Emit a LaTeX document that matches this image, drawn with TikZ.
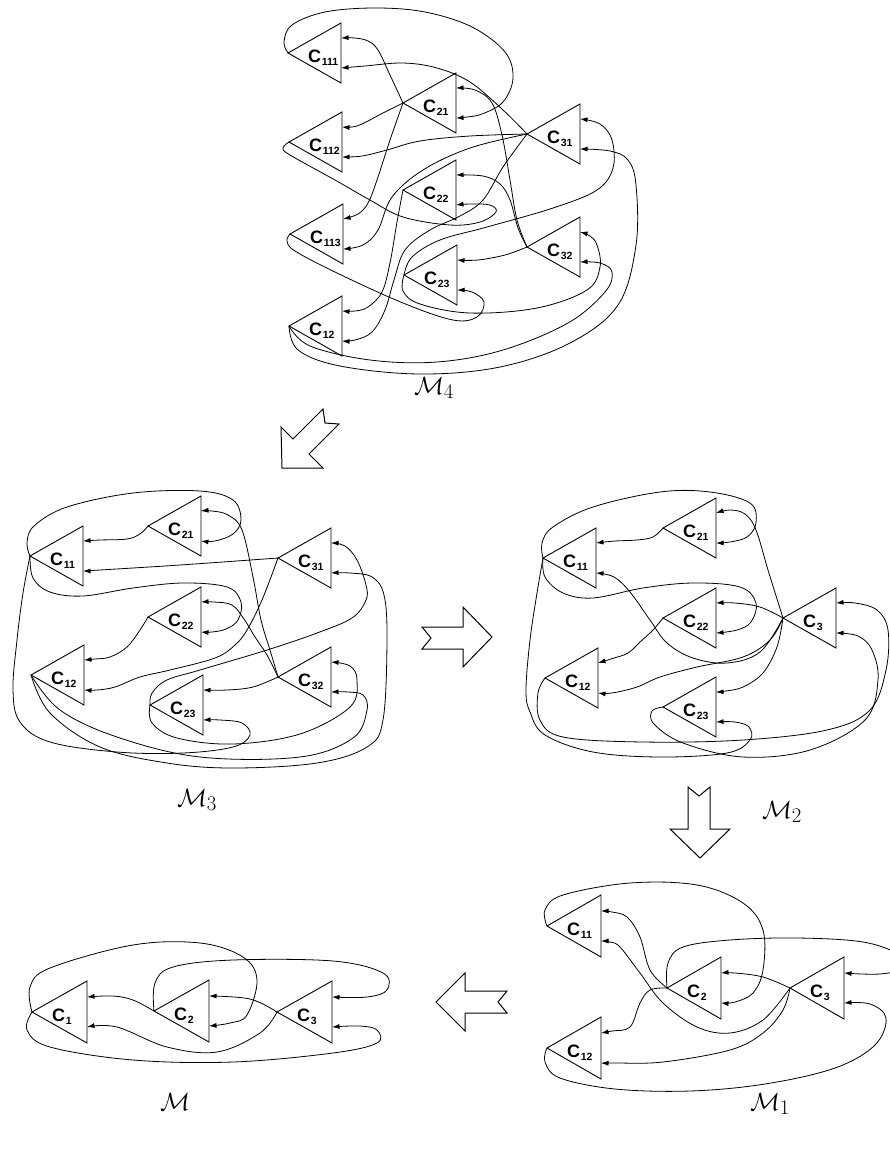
\documentclass[tikz,border=0pt]{standalone}
\usepackage{fontspec}
\setsansfont{Liberation Sans}
\usetikzlibrary{arrows.meta}
\newcommand\trw{53}
\newcommand\trh{30}
\newcommand\clab[1]{{\fontsize{18}{18}\selectfont\sffamily\bfseries C}\kern0.6pt\raisebox{-3.5pt}{\fontsize{10.5}{10.5}\selectfont\sffamily\bfseries #1}}
\tikzset{
  trip/.style={draw,line width=0.9pt,line join=miter},
  conn/.style={line width=0.8pt,-{Latex[length=7.5pt,width=5pt]}},
  blk/.style={draw,line width=1pt,fill=white,line join=miter},
  lab/.style={anchor=base west,inner sep=0pt},
  mlab/.style={inner sep=0pt,font=\fontsize{28}{28}\selectfont}
}
\newcommand\tri[4]{%
  \coordinate (#1) at (#2,#3);
  \coordinate (#1a) at (#2+\trw,#3-15);
  \coordinate (#1b) at (#2+\trw,#3+15);
  \draw[trip] (#1) -- (#2+\trw,#3-\trh) -- (#2+\trw,#3+\trh) -- cycle;
  \node[lab] (#1t) at (#2+20,#3+9) {\clab{#4}};
}
\newcommand\cv[1]{\draw[conn] plot[smooth,tension=0.6] coordinates {#1};}
\begin{document}
\begin{tikzpicture}[x=1pt,y=-1pt]
\useasboundingbox (0,0) rectangle (890,1152);
% ================= M4 =================
\tri{a111}{288}{53}{111}
\tri{a21}{403}{103}{21}
\tri{a112}{289}{142}{112}
\tri{a31}{527}{134}{31}
\tri{a22}{403}{190}{22}
\tri{a113}{290}{234}{113}
\tri{a32}{527}{247}{32}
\tri{a23}{404}{275}{23}
\tri{a12}{289}{326}{12}
\cv{(a111) (284,42) (292,25) (325,12) (375,8) (425,12) (472,27) (505,52) (513,78) (503,102) (482,114) (467,117) (a21b)}
\cv{(a21) (390,75) (378,50) (368,41) (355,38) (a111a)}
\cv{(a21) (383,113) (362,124) (352,127) (a112a)}
\cv{(a21) (390,140) (377,180) (368,203) (358,214) (a113a)}
\cv{(a112) (283,148) (290,155) (335,180) (370,200) (403,217) (450,225) (480,222) (496,212) (490,205) (470,204) (a22b)}
\cv{(a31) (503,110) (470,82) (437,68) (403,63) (365,66) (a111b)}
\cv{(a31) (470,136) (420,141) (387,150) (362,156) (a112b)}
\cv{(a31) (470,148) (423,170) (392,197) (378,230) (363,245) (a113b)}
\cv{(a31) (503,167) (483,200) (460,216) (430,230) (405,250) (394,280) (385,310) (372,332) (355,340) (a12b)}
\cv{(a22) (397,222) (390,263) (382,292) (368,307) (355,311) (a12a)}
\cv{(a32) (517,220) (510,180) (502,135) (492,103) (475,90) (a21a)}
\cv{(a32) (518,228) (510,200) (500,184) (483,176) (a22a)}
\cv{(a32) (505,255) (478,260) (a23a)}
\cv{(a23) (412,257) (440,240) (487,227) (553,208) (597,190) (613,168) (612,140) (600,124) (a31a)}
\cv{(a12) (298,350) (340,366) (420,374) (500,367) (570,343) (618,305) (636,245) (636,185) (628,160) (610,151) (a31b)}
\cv{(a12) (310,346) (370,360) (437,362) (503,350) (568,323) (605,292) (612,272) (600,263) (a32b)}
\cv{(a113) (287,241) (295,251) (337,273) (403,303) (453,320) (477,317) (484,302) (472,292) (a23b)}
\cv{(a23) (403,291) (420,304) (470,313) (537,308) (587,290) (600,267) (597,245) (590,236) (a32a)}
\node[mlab] (l4) at (434,388) {$\mathcal{M}_4$};
% ================= M3 =================
\tri{b11}{30}{556}{11}
\tri{b21}{148}{526}{21}
\tri{b31}{278}{558}{31}
\tri{b22}{148}{617}{22}
\tri{b12}{31}{675}{12}
\tri{b32}{278}{677}{32}
\tri{b23}{150}{705}{23}
\cv{(b21) (140,534) (127,539) (100,540) (b11a)}
\cv{(b11) (27,543) (34,526) (67,507) (133,493) (200,491) (233,500) (241,520) (233,534) (215,541) (b21b)}
\cv{(b31) (180,565) (100,570) (b11b)}
\cv{(b11) (33,578) (50,592) (83,596) (133,588) (183,583) (227,587) (241,602) (238,620) (226,629) (212,632) (b22b)}
\cv{(b11) (23,593) (17,640) (13,690) (20,722) (50,742) (117,752) (183,753) (233,747) (250,735) (242,723) (220,720) (b23b)}
\cv{(b22) (140,630) (127,647) (110,657) (95,659) (b12a)}
\cv{(b32) (270,650) (261,620) (253,577) (242,530) (228,515) (212,511) (b21a)}
\cv{(b32) (267,655) (255,637) (244,619) (232,605) (214,602) (b22a)}
\cv{(b31) (262,600) (247,630) (235,645) (215,658) (170,670) (140,677) (115,687) (97,690) (b12b)}
\cv{(b32) (253,687) (227,690) (b23a)}
\cv{(b23) (152,693) (167,680) (200,670) (267,650) (317,633) (352,618) (366,600) (366,585) (357,560) (345,546) (b31a)}
\cv{(b12) (50,713) (100,747) (167,763) (233,768) (317,763) (367,747) (383,720) (387,640) (384,595) (372,577) (350,573) (b31b)}
\cv{(b12) (60,710) (117,737) (200,757) (300,757) (353,738) (367,710) (363,695) (348,692) (b32b)}
\cv{(b23) (152,723) (177,738) (233,744) (300,734) (350,707) (357,680) (350,666) (b32a)}
\node[mlab] (l3) at (197,800) {$\mathcal{M}_3$};
% ================= M2 =================
\tri{c11}{543}{558}{11}
\tri{c21}{663}{528}{21}
\tri{c22}{663}{618}{22}
\tri{c3}{783}{618}{3}
\tri{c12}{545}{678}{12}
\tri{c23}{663}{707}{23}
\cv{(c21) (653,537) (637,540) (615,541) (c11a)}
\cv{(c11) (542,543) (553,527) (593,507) (660,492) (710,492) (750,503) (756,523) (747,537) (730,542) (c21b)}
\cv{(c3) (760,652) (727,663) (693,658) (667,643) (650,620) (630,592) (614,577) (c11b)}
\cv{(c11) (545,577) (563,593) (593,598) (643,588) (693,583) (740,587) (756,603) (751,622) (737,630) (c22b)}
\cv{(c11) (537,593) (530,640) (526,690) (530,712) (545,735) (593,752) (660,757) (727,753) (750,740) (749,727) (735,722) (c23b)}
\cv{(c22) (653,630) (640,642) (628,653) (614,658) (c12a)}
\cv{(c3) (768,570) (756,530) (745,514) (730,510) (c21a)}
\cv{(c3) (760,607) (735,603) (c22a)}
\cv{(c3) (770,640) (743,657) (697,667) (660,677) (637,687) (612,693) (c12b)}
\cv{(c3) (777,647) (763,673) (743,687) (726,691) (c23a)}
\cv{(c12) (538,693) (540,720) (563,737) (643,742) (743,740) (827,730) (870,710) (886,670) (888,630) (877,610) (855,603) (c3a)}
\cv{(c23) (652,711) (654,724) (683,743) (743,757) (810,750) (865,720) (878,680) (872,650) (858,636) (c3b)}
\node[mlab] (l2) at (782,812) {$\mathcal{M}_2$};
% ================= M1 =================
\renewcommand\trw{54}
\renewcommand\trh{31}
\tri{d11}{547}{926}{11}
\tri{d2}{667}{988}{2}
\tri{d3}{790}{988}{3}
\tri{d12}{547}{1048}{12}
\cv{(d11) (545,910) (563,895) (630,883) (697,885) (743,903) (763,930) (763,970) (753,993) (735,1002) (d2b)}
\cv{(d2) (650,970) (640,937) (627,917) (612,912) (d11a)}
\cv{(d3) (763,1020) (730,1033) (697,1027) (663,1003) (640,973) (620,947) (610,942) (d11b)}
\cv{(d3) (763,977) (735,973) (d2a)}
\cv{(d2) (668,963) (683,947) (730,940) (797,938) (863,942) (900,955) (905,968) (880,974) (d3a)}
\cv{(d2) (650,990) (640,1003) (630,1027) (612,1031) (d12a)}
\cv{(d3) (783,1010) (763,1033) (730,1050) (663,1062) (615,1063) (d12b)}
\cv{(d12) (545,1062) (560,1078) (615,1089) (690,1091) (765,1084) (835,1068) (875,1045) (886,1018) (870,1004) (d3b)}
\node[mlab] (l1) at (770,1104) {$\mathcal{M}_1$};
% ================= M =================
\renewcommand\trw{55}
\tri{e1}{32}{1012}{1}
\tri{e2}{154}{1011}{2}
\tri{e3}{277}{1012}{3}
\cv{(e2) (133,1000) (113,996) (e1a)}
\cv{(e3) (260,1033) (217,1052) (167,1047) (117,1027) (e1b)}
\cv{(e3) (250,999) (e2a)}
\cv{(e1) (30,987) (50,968) (133,945) (200,943) (243,957) (257,980) (247,1015) (230,1023) (e2b)}
\cv{(e2) (155,983) (173,967) (233,960) (333,961) (383,973) (387,990) (367,997) (e3a)}
\cv{(e1) (27,1030) (50,1047) (133,1060) (233,1062) (333,1053) (377,1043) (377,1030) (360,1026) (e3b)}
\node[mlab] (l0) at (175,1102) {$\mathcal{M}$};
% ================= block arrows =================
\draw[blk] (282,468) -- (281,427) -- (293,439) -- (323,409) -- (325,423) -- (339,424) -- (309,454) -- (323,468) -- cycle;
\draw[blk] (422,627) -- (463,627) -- (463,607) -- (492,637) -- (463,667) -- (463,649) -- (422,649) -- (431,638) -- cycle;
\draw[blk] (688,787) -- (699,796) -- (710,787) -- (710,829) -- (730,829) -- (700,858) -- (670,829) -- (688,829) -- cycle;
\draw[blk] (436,1002) -- (465,973) -- (465,991) -- (507,991) -- (498,1002) -- (507,1013) -- (465,1013) -- (465,1031) -- cycle;
\end{tikzpicture}
\end{document}
